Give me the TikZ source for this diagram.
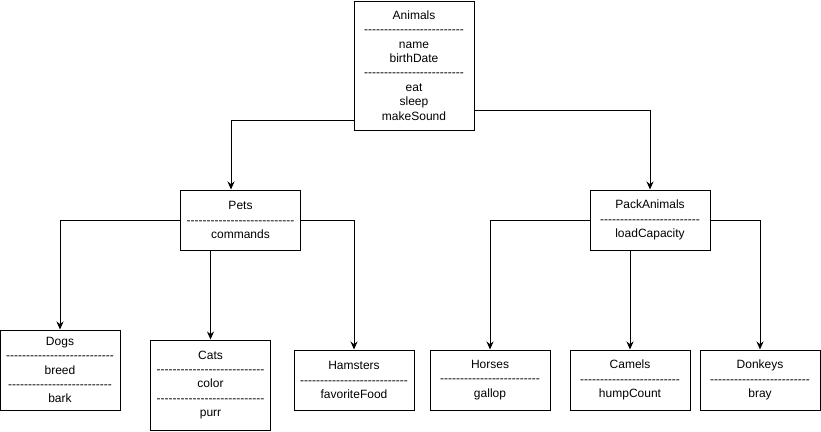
\documentclass[tikz,border=0pt]{standalone}
\usepackage{fontspec}
\setmainfont{Liberation Sans}
\usepackage{tikz}
\usetikzlibrary{arrows.meta,positioning}

% row of single hyphens (no ligatures)
\newcommand{\divider}[1]{\foreach \k in {1,...,#1}{-}}

\begin{document}
\begin{tikzpicture}[
    x=1pt, y=-1pt,
    node distance=19pt,
    class/.style={rectangle, draw, line width=1pt, minimum width=120pt, inner sep=0pt, align=center, font=\fontsize{12pt}{14.4pt}\selectfont},
    inherit/.style={-{Stealth[length=8pt,width=7pt]}, line width=1pt}
]
\useasboundingbox (0,0) rectangle (821,431);

% Base class
\node[class, minimum height=129pt] (animals) at (414,65.5) {Animals\\\divider{25}\\name\\birthDate\\\divider{25}\\eat\\sleep\\makeSound};

% Middle level
\node[class, minimum height=60pt] (pets) at (240.5,220) {Pets\\\divider{27}\\commands};
\node[class, minimum height=60pt] (packanimals) at (650,220) {PackAnimals\\\divider{25}\\loadCapacity};

% Leaf classes
\node[class, minimum height=80pt] (dogs) at (60,370) {Dogs\\\divider{27}\\breed\\\divider{26}\\bark};
\node[class, minimum height=90pt] (cats) at (210.5,385) {Cats\\\divider{27}\\color\\\divider{27}\\purr};
\node[class, minimum height=60pt] (hamsters) at (354,380) {Hamsters\\\divider{27}\\favoriteFood};
\node[class, minimum height=60pt] (horses) at (490,380) {Horses\\\divider{25}\\gallop};
\node[class, minimum height=60pt, right=of horses] (camels) {Camels\\\divider{25}\\humpCount};
\node[class, minimum height=60pt, right=9pt of camels] (donkeys) {Donkeys\\\divider{25}\\bray};

% Inheritance arrows
\draw[inherit] ([yshift=10pt]animals.south west) -| ([xshift=-9.5pt]pets.north);
\draw[inherit] ([yshift=20pt]animals.south east) -| (packanimals.north);

\draw[inherit] (pets.west) -| (dogs.north);
\draw[inherit] (pets.south -| cats.north) -- (cats.north);
\draw[inherit] (pets.east) -| (hamsters.north);

\draw[inherit] (packanimals.west) -| (horses.north);
\draw[inherit] (packanimals.south -| camels.north) -- (camels.north);
\draw[inherit] (packanimals.east) -| (donkeys.north);
\end{tikzpicture}
\end{document}
